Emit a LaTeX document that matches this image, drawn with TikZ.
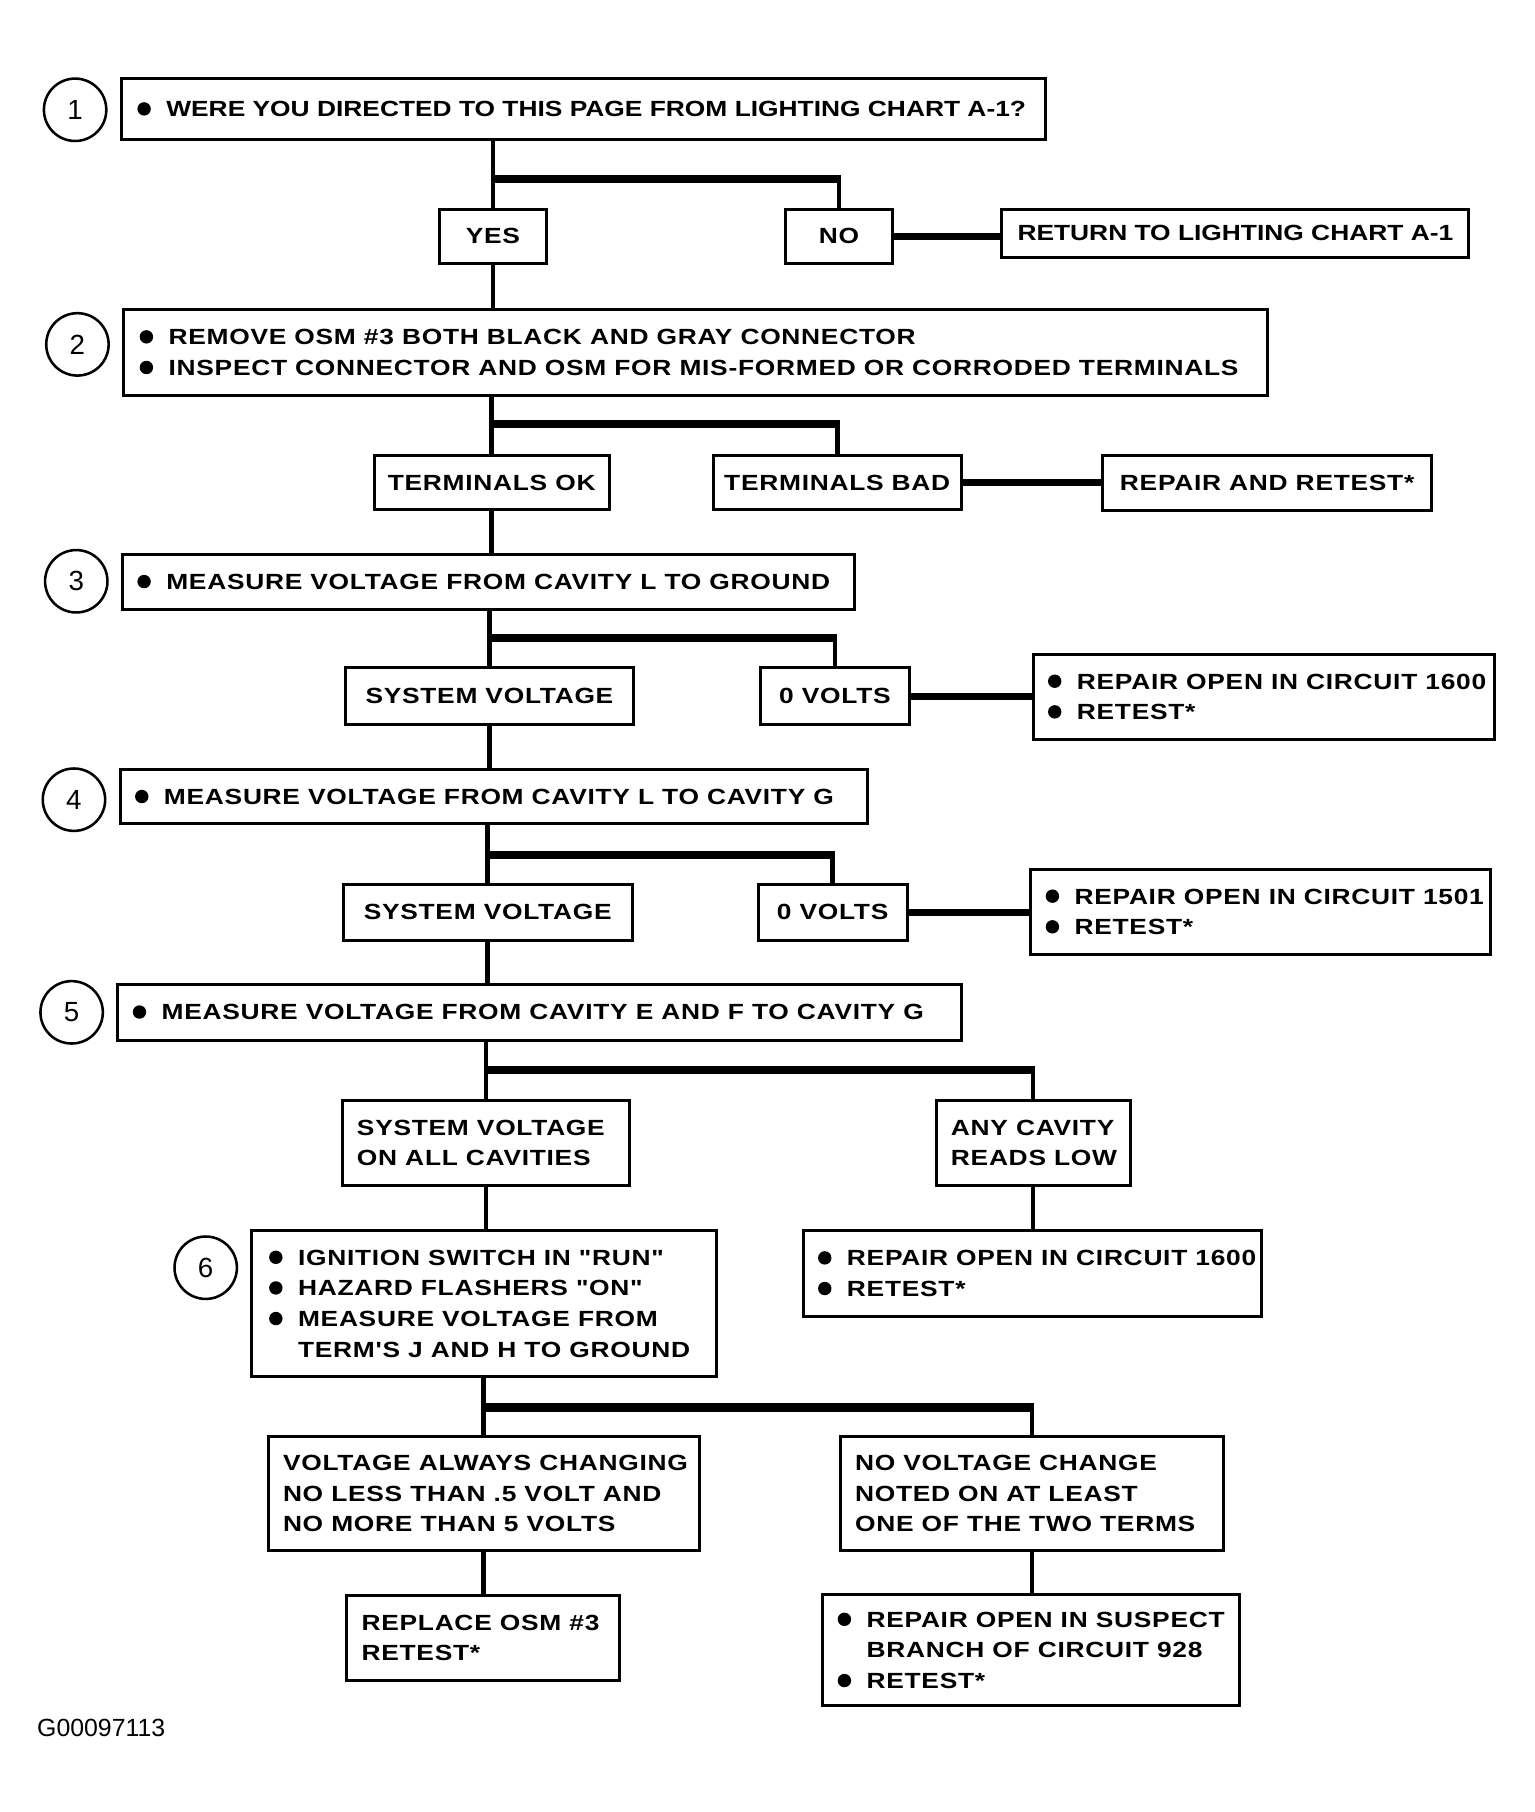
\documentclass[tikz,border=0pt]{standalone}
\usepackage{fontspec}
\setmainfont{Liberation Sans}
\newfontfamily\stf{Liberation Sans}[FakeStretch=1.2,LetterSpace=3.3]
\newfontfamily\hvf{Liberation Sans}[FakeStretch=1.2]
\usetikzlibrary{calc}
\newcommand\bul{\makebox[25pt][l]{\tikz[baseline=0pt]\fill (6pt,6.8pt) circle[radius=5.8pt];}}
% left-aligned box: name, x1, y1, x2, y2, pad, text
\newcommand\lbox[7]{%
  \node[box,minimum width={#4-#2},minimum height={#5-#3}] (#1) at ({(#2+#4)/2},{(#3+#5)/2}) {};
  \node[txt,anchor=west,align=left] (#1t) at ([xshift=#6pt]#1.west) {#7};}
% centred box: name, x1, y1, x2, y2, text
\newcommand\cbox[6]{%
  \node[box,txt,minimum width={#4-#2},minimum height={#5-#3}] (#1) at ({(#2+#4)/2},{(#3+#5)/2}) {#6};}
\begin{document}
\begin{tikzpicture}[x=1pt,y=-1pt,
  box/.style={draw,line width=2.6pt,inner sep=0pt},
  txt/.style={inner sep=0pt,font=\stf\bfseries\fontsize{19}{26.5}\selectfont},
  conn/.style={line width=4pt},
  hconn/.style={line width=6pt},
  bar/.style={line width=7.5pt},
  numc/.style={draw,circle,line width=2.2pt,minimum size=54pt,inner sep=0pt,font=\fontsize{24}{24}\selectfont}]
\fill[white] (0,0) rectangle (1328,1568);
\useasboundingbox (0,0) rectangle (1328,1568);

% step circles
\node[numc] (c1) at (65,95) {1};
\node[numc] (c2) at (67,298) {2};
\node[numc] (c3) at (66,503) {3};
\node[numc] (c4) at (64,692) {4};
\node[numc] (c5) at (62,876) {5};
\node[numc] (c6) at (178,1097) {6};

% row 1
\lbox{b1}{105}{68}{905}{121}{15}{\hvf\bfseries\bul WERE YOU DIRECTED TO THIS PAGE FROM LIGHTING CHART A-1?}
\cbox{yes}{380}{181}{473}{228}{YES}
\cbox{no}{680}{181}{772}{228}{NO}
\node[box,txt,font=\hvf\bfseries\fontsize{19}{26.5}\selectfont,minimum width=404,minimum height=42] (ret) at (1069,202) {RETURN TO LIGHTING CHART A-1};

% row 2
\lbox{b2}{107}{268}{1097}{342}{15}{\bul REMOVE OSM \#3 BOTH BLACK AND GRAY CONNECTOR\\\bul INSPECT CONNECTOR AND OSM FOR MIS-FORMED OR CORRODED TERMINALS}
\cbox{tok}{324}{394}{527}{441}{TERMINALS OK}
\cbox{tbad}{617}{394}{832}{441}{TERMINALS BAD}
\cbox{rr}{954}{394}{1239}{442}{REPAIR AND RETEST*}

% row 3
\lbox{b3}{106}{480}{739}{527}{14}{\bul MEASURE VOLTAGE FROM CAVITY L TO GROUND}
\cbox{sv3}{299}{578}{548}{627}{SYSTEM VOLTAGE}
\cbox{ov3}{658}{578}{787}{627}{0 VOLTS}
\lbox{r3}{894}{566}{1293}{640}{14}{\bul REPAIR OPEN IN CIRCUIT 1600\\\bul RETEST*}

% row 4
\lbox{b4}{104}{666}{751}{713}{14}{\bul MEASURE VOLTAGE FROM CAVITY L TO CAVITY G}
\cbox{sv4}{297}{765}{547}{814}{SYSTEM VOLTAGE}
\cbox{ov4}{656}{765}{785}{814}{0 VOLTS}
\lbox{r4}{892}{752}{1290}{826}{14}{\bul REPAIR OPEN IN CIRCUIT 1501\\\bul RETEST*}

% row 5
\lbox{b5}{102}{852}{832}{900}{14}{\bul MEASURE VOLTAGE FROM CAVITY E AND F TO CAVITY G}
\lbox{sva}{296}{952}{545}{1026}{14}{SYSTEM VOLTAGE\\ON ALL CAVITIES}
\lbox{any}{810}{952}{978}{1026}{14}{ANY CAVITY\\READS LOW}

% row 6
\lbox{b6}{218}{1065}{620}{1191}{16}{\bul IGNITION SWITCH IN "RUN"\\\bul HAZARD FLASHERS "ON"\\\bul MEASURE VOLTAGE FROM\\\hspace*{25pt}TERM'S J AND H TO GROUND}
\lbox{r5}{695}{1065}{1092}{1139}{14}{\bul REPAIR OPEN IN CIRCUIT 1600\\\bul RETEST*}

% row 7
\lbox{vac}{232}{1243}{605}{1342}{14}{VOLTAGE ALWAYS CHANGING\\NO LESS THAN .5 VOLT AND\\NO MORE THAN 5 VOLTS}
\lbox{nvc}{727}{1243}{1059}{1342}{14}{NO VOLTAGE CHANGE\\NOTED ON AT LEAST\\ONE OF THE TWO TERMS}
\lbox{rep}{300}{1381}{536}{1454}{14}{REPLACE OSM \#3\\RETEST*}
\lbox{rs}{712}{1380}{1073}{1476}{14}{\bul REPAIR OPEN IN SUSPECT\\\hspace*{25pt}BRANCH OF CIRCUIT 928\\\bul RETEST*}

\node[anchor=west,inner sep=0pt,font=\fontsize{21.5}{21.5}\selectfont] (cap) at (32,1495) {G00097113};

% junction levels
\coordinate (j1) at (0,155);
\coordinate (j2) at (0,367);
\coordinate (j3) at (0,552);
\coordinate (j4) at (0,740);
\coordinate (j5) at (0,926);
\coordinate (j6) at (0,1218);

% connectors
\draw[conn] (b1.south -| yes) -- (yes.north);
\draw[bar] ([xshift=-2pt]j1 -| yes) -- ([xshift=2pt]j1 -| no);
\draw[conn] (j1 -| no) -- (no.north);
\draw[hconn] (no.east) -- (no.east -| ret.west);
\draw[conn] (yes.south) -- (yes.south |- b2.north);

\draw[conn] (b2.south -| tok) -- (tok.north);
\draw[bar] ([xshift=-2pt]j2 -| tok) -- ([xshift=2pt]j2 -| tbad);
\draw[conn] (j2 -| tbad) -- (tbad.north);
\draw[hconn] (tbad.east) -- (tbad.east -| rr.west);
\draw[conn] (tok.south) -- (tok.south |- b3.north);

\draw[conn] (b3.south -| sv3) -- (sv3.north);
\draw[bar] ([xshift=-2pt]j3 -| sv3) -- ([xshift=2pt]j3 -| ov3);
\draw[conn] (j3 -| ov3) -- (ov3.north);
\draw[hconn] (ov3.east) -- (ov3.east -| r3.west);
\draw[conn] (sv3.south) -- (sv3.south |- b4.north);

\draw[conn] (b4.south -| sv4) -- (sv4.north);
\draw[bar] ([xshift=-2pt]j4 -| sv4) -- ([xshift=2pt]j4 -| ov4);
\draw[conn] (j4 -| ov4) -- (ov4.north);
\draw[hconn] (ov4.east) -- (ov4.east -| r4.west);
\draw[conn] (sv4.south) -- (sv4.south |- b5.north);

\draw[conn] (b5.south -| sva) -- (sva.north);
\draw[bar] ([xshift=-2pt]j5 -| sva) -- ([xshift=2pt]j5 -| any);
\draw[conn] (j5 -| any) -- (any.north);
\draw[conn] (sva.south) -- (sva.south |- b6.north);
\draw[conn] (any.south) -- (any.south |- r5.north);

\draw[conn] (b6.south -| vac) -- (vac.north);
\draw[bar] ([xshift=-2pt]j6 -| vac) -- ([xshift=2pt]j6 -| nvc);
\draw[conn] (j6 -| nvc) -- (nvc.north);
\draw[conn] (vac.south) -- (vac.south |- rep.north);
\draw[conn] (nvc.south) -- (nvc.south |- rs.north);
\end{tikzpicture}
\end{document}
